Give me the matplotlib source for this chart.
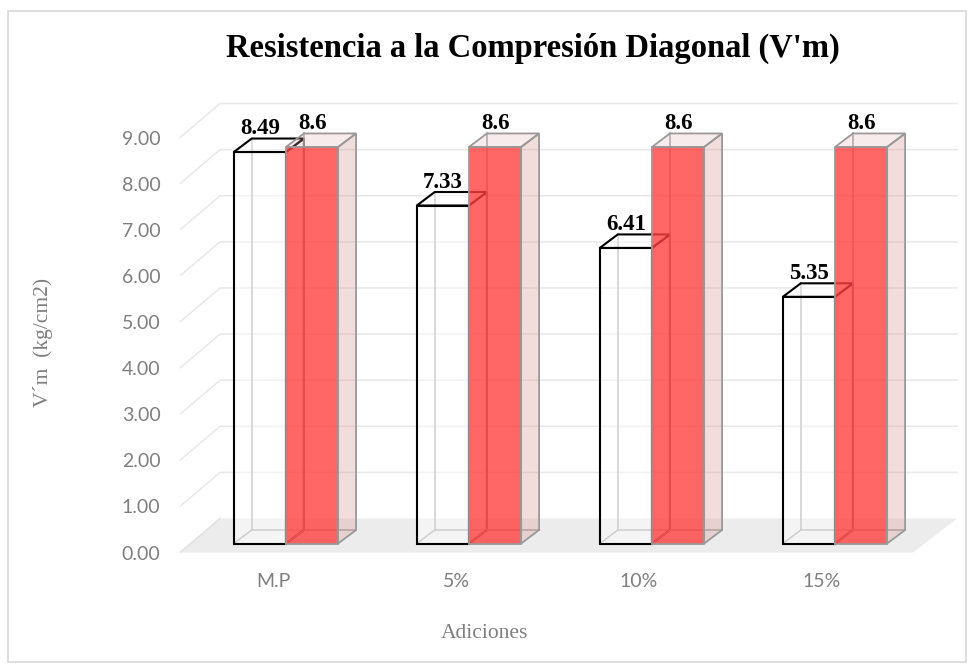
import numpy as np
import matplotlib
matplotlib.use("Agg")
import matplotlib.pyplot as plt
from matplotlib.patches import Polygon, Rectangle

# data
categories = ["M.P", "5%", "10%", "15%"]
vm_values = [8.49, 7.33, 6.41, 5.35]
ref_values = [8.6, 8.6, 8.6, 8.6]
vm_labels = ["8.49", "7.33", "6.41", "5.35"]
ref_labels = ["8.6", "8.6", "8.6", "8.6"]
y_ticks = [0, 1, 2, 3, 4, 5, 6, 7, 8, 9]

# fake 3d geometry (data units)
BAR_W = 0.285
BASE = 0.195          # bars sit a bit behind the front plane
DX, DY = 0.098, 0.293  # bar depth
WDX, WDY = 0.219, 0.737  # wall / floor depth
XL, XR = -0.579, 3.683
FLOOR_FR = 3.426
GRID_R = 3.667
LABEL_SHIFT = -0.071

SERIF = "Liberation Serif"
SANS = "Lato"
GREY_TXT = "#7f7f7f"

fig = plt.figure(figsize=(9.74, 6.68), dpi=100)
fig.patch.set_facecolor("white")
W, H = 974, 668
ax = fig.add_axes([180 / W, (H - 552.5) / H, (960 - 180) / W, (552.5 - 100) / H])
ax.set_xlim(XL, XR)
ax.set_ylim(0, 452.5 / 46.11)
ax.set_facecolor("none")
for s in ax.spines.values():
    s.set_visible(False)

# outer chart border
fig.patches.append(Rectangle((8 / W, 6 / H), 958 / W, 651 / H, transform=fig.transFigure,
                             fill=False, edgecolor="#d9d9d9", lw=1.2))

# floor
ax.add_patch(Polygon([(XL, 0), (FLOOR_FR, 0), (GRID_R, WDY), (XL + WDX, WDY)],
                     closed=True, facecolor="#ececec", edgecolor="none", zorder=0.5))

# gridlines on side and back wall
for v in y_ticks[1:]:
    ax.plot([XL, XL + WDX, GRID_R], [v, v + WDY, v + WDY], color="#e8e8e8", lw=1.1, zorder=0.6)
ax.plot([XL, XL + WDX], [0, WDY], color="#e0e0e0", lw=1.1, zorder=0.6)


def box(x, h, front, side, top, edge, hidden, lw, z):
    x1 = x + BAR_W
    y0 = BASE
    yt = BASE + h
    # hidden back edges
    ax.plot([x + DX, x + DX], [y0 + DY, yt + DY], color=hidden, lw=1.1, zorder=z)
    ax.plot([x + DX, x1 + DX], [y0 + DY, y0 + DY], color=hidden, lw=1.1, zorder=z)
    ax.plot([x, x + DX], [y0, y0 + DY], color=hidden, lw=1.1, zorder=z)
    ax.add_patch(Polygon([(x1, y0), (x1 + DX, y0 + DY), (x1 + DX, yt + DY), (x1, yt)],
                         closed=True, facecolor=side, edgecolor=edge, lw=lw, zorder=z + 0.1))
    ax.add_patch(Polygon([(x, yt), (x1, yt), (x1 + DX, yt + DY), (x + DX, yt + DY)],
                         closed=True, facecolor=top, edgecolor=edge, lw=lw, zorder=z + 0.2))
    ax.add_patch(Rectangle((x, y0), BAR_W, h, facecolor=front, edgecolor=edge,
                           lw=lw, zorder=z + 0.3))


for i in range(len(categories)):
    xw = i - BAR_W
    xr = i
    box(xw, vm_values[i], (1, 1, 1, 0.45), (1, 1, 1, 0.3), (1, 1, 1, 0.5),
        "black", "#a6a6a6", 1.5, 2 + i)
    box(xr, ref_values[i], (1, 0.25, 0.25, 0.8), (0.86, 0.62, 0.62, 0.35),
        (0.9, 0.7, 0.7, 0.25), "#999999", "#a0a0a0", 1.3, 2.5 + i)
    ax.text(xw + BAR_W / 2, BASE + vm_values[i] + DY - 0.02, vm_labels[i],
            ha="center", va="bottom", fontsize=16.5, fontweight="bold",
            family=SERIF, color="black", zorder=10)
    ax.text(xr + BAR_W / 2, BASE + ref_values[i] + DY - 0.02, ref_labels[i],
            ha="center", va="bottom", fontsize=16.5, fontweight="bold",
            family=SERIF, color="black", zorder=10)

ax.set_yticks(y_ticks)
ax.set_yticklabels(["%.2f" % v for v in y_ticks], family=SANS, fontsize=14, color=GREY_TXT)
ax.set_xticks(np.arange(len(categories)) + LABEL_SHIFT)
ax.set_xticklabels(categories, family=SANS, fontsize=14, color=GREY_TXT)
ax.tick_params(axis="y", length=0, pad=14)
ax.tick_params(axis="x", length=0, pad=15)

fig.text(533 / W, 1 - 48 / H, "Resistencia a la Compresión Diagonal (V'm)",
         ha="center", va="center", fontsize=23.5, fontweight="bold", family=SERIF)
fig.text(43 / W, 1 - 342 / H, "V´m  (kg/cm2)", rotation=90, ha="center", va="center",
         fontsize=15.5, family=SERIF, color=GREY_TXT)
fig.text(484 / W, 1 - 633 / H, "Adiciones", ha="center", va="center",
         fontsize=15.5, family=SERIF, color=GREY_TXT)

plt.savefig("out.png", dpi=100)
